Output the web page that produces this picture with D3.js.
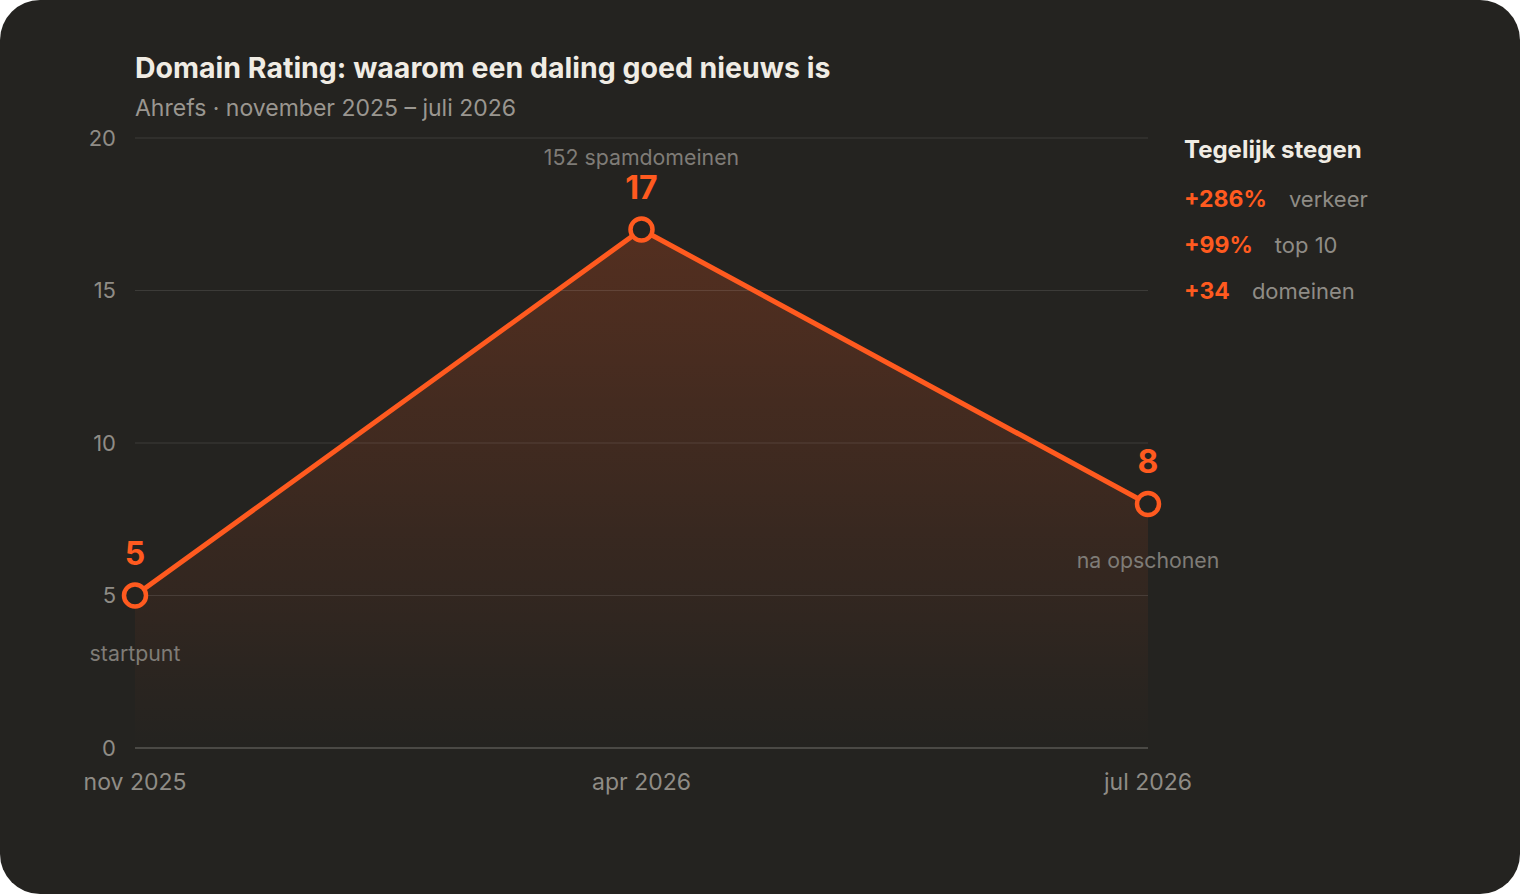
<!DOCTYPE html>
<html>
<head>
<meta charset="utf-8">
<script src="https://cdn.jsdelivr.net/npm/d3@7"></script>
<style>
  html, body { margin: 0; padding: 0; background: #ffffff; }
  body { width: 1520px; height: 894px; overflow: hidden; }
  svg { display: block; font-family: Inter, "Noto Sans", sans-serif; }
</style>
</head>
<body>
<div id="chart"></div>
<script>
// data
var months = ["nov 2025", "apr 2026", "jul 2026"];
var ratings = [5, 17, 8];
var notes = ["startpunt", "152 spamdomeinen", "na opschonen"];
var yTicks = [0, 5, 10, 15, 20];
var sideValues = ["+286%", "+99%", "+34"];
var sideLabels = ["verkeer", "top 10", "domeinen"];

var width = 1520, height = 894;
var orange = "#ff5a1f", grey = "#8f8c86", bg = "#242320";

var svg = d3.select("#chart").append("svg").attr("width", width).attr("height", height);

svg.append("rect").attr("width", width).attr("height", height)
  .attr("rx", 40).attr("fill", bg);

var x = d3.scalePoint().domain(months).range([135, 1148]);
var y = d3.scaleLinear().domain([0, 20]).range([748, 138]);

var defs = svg.append("defs");
var grad = defs.append("linearGradient").attr("id", "areaGrad")
  .attr("gradientUnits", "userSpaceOnUse")
  .attr("x1", 0).attr("x2", 0)
  .attr("y1", y(17)).attr("y2", y(0));
grad.append("stop").attr("offset", 0).attr("stop-color", orange).attr("stop-opacity", 0.22);
grad.append("stop").attr("offset", 1).attr("stop-color", orange).attr("stop-opacity", 0.0);

var data = months.map(function(m, i) { return {m: m, v: ratings[i], note: notes[i]}; });

// area
svg.append("path").datum(data)
  .attr("fill", "url(#areaGrad)")
  .attr("d", d3.area().x(d => x(d.m)).y0(y(0)).y1(d => y(d.v)));

// grid
svg.append("g").selectAll("line").data(yTicks).join("line")
  .attr("x1", 135).attr("x2", 1148)
  .attr("y1", d => y(d)).attr("y2", d => y(d))
  .attr("stroke", d => d === 0 ? "#4a4945" : "rgba(255,255,255,0.11)")
  .attr("stroke-width", d => d === 0 ? 2 : 1);

// y labels
svg.append("g").selectAll("text").data(yTicks).join("text")
  .attr("x", 116).attr("y", d => y(d)).attr("dy", "0.35em")
  .attr("text-anchor", "end").attr("fill", grey).attr("font-size", 22)
  .text(d => d);

// x labels
svg.append("g").selectAll("text").data(months).join("text")
  .attr("x", d => x(d)).attr("y", 782).attr("dy", "0.35em")
  .attr("text-anchor", "middle").attr("fill", grey).attr("font-size", 23)
  .text(d => d);

// line
svg.append("path").datum(data)
  .attr("fill", "none").attr("stroke", orange).attr("stroke-width", 5)
  .attr("stroke-linejoin", "round")
  .attr("d", d3.line().x(d => x(d.m)).y(d => y(d.v)));

// points
svg.append("g").selectAll("circle").data(data).join("circle")
  .attr("cx", d => x(d.m)).attr("cy", d => y(d.v)).attr("r", 11)
  .attr("fill", bg).attr("stroke", orange).attr("stroke-width", 4.5);

// values
svg.append("g").selectAll("text").data(data).join("text")
  .attr("x", d => x(d.m)).attr("y", d => y(d.v) - 42).attr("dy", "0.35em")
  .attr("text-anchor", "middle").attr("fill", orange)
  .attr("font-size", 32).attr("font-weight", 700)
  .text(d => d.v);

// notes
var noteY = [y(5) + 58, y(17) - 72, y(8) + 57];
svg.append("g").selectAll("text").data(data).join("text")
  .attr("x", d => x(d.m)).attr("y", (d, i) => noteY[i]).attr("dy", "0.35em")
  .attr("text-anchor", "middle").attr("fill", "#7f7c77").attr("font-size", 21.3)
  .text(d => d.note);

// title
svg.append("text").attr("x", 135).attr("y", 78)
  .attr("fill", "#f0ece4").attr("font-size", 28.5).attr("font-weight", 700)
  .text("Domain Rating: waarom een daling goed nieuws is");
svg.append("text").attr("x", 135).attr("y", 116)
  .attr("fill", "#9a9690").attr("font-size", 23)
  .text("Ahrefs \u00b7 november 2025 \u2013 juli 2026");

// side panel
var side = svg.append("g").attr("transform", "translate(1184,0)");
side.append("text").attr("x", 0).attr("y", 150).attr("dy", "0.35em")
  .attr("fill", "#f0ece4").attr("font-size", 24).attr("font-weight", 700)
  .text("Tegelijk stegen");
sideValues.forEach(function(v, i) {
  var row = side.append("g").attr("transform", "translate(0," + (199 + i * 46) + ")");
  var t = row.append("text").attr("dy", "0.35em").attr("fill", orange)
    .attr("font-size", 23).attr("font-weight", 700).text(v);
  var w = t.node().getComputedTextLength();
  row.append("text").attr("x", w + 22).attr("dy", "0.35em").attr("fill", grey)
    .attr("font-size", 22).text(sideLabels[i]);
});
</script>
</body>
</html>
